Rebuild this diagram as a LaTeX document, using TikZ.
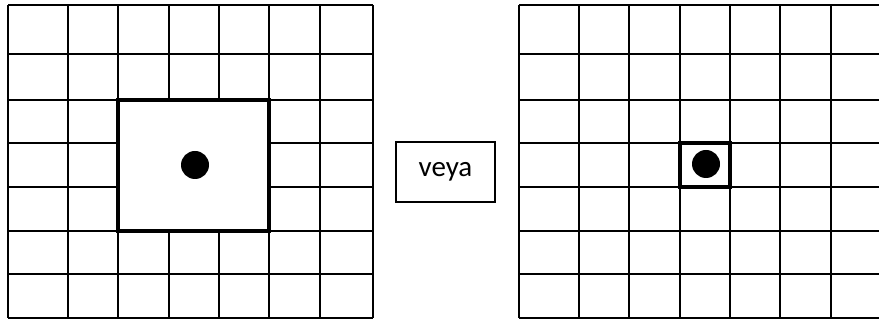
\documentclass[tikz,border=0pt]{standalone}
\usepackage{fontspec}
\setmainfont{Carlito}
\tikzset{
  thin grid/.style={line width=1.1pt, black},
  thick frame/.style={line width=3.2pt, black},
  dotmark/.style={fill=black},
  orbox/.style={draw, line width=1.1pt, minimum width=99pt, minimum height=60pt, inner sep=0pt, font=\fontsize{29}{32}\selectfont}
}
\begin{document}
\begin{tikzpicture}[x=1pt,y=-1pt]
\useasboundingbox (0,0) rectangle (879,320);
\begin{scope}
\clip (0,0) rectangle (879,320);
% left grid
\foreach \x in {8,68,118,169,219,269,320,373} \draw[thin grid] (\x,5) -- (\x,318);
\foreach \y in {5,54,100,143,187,231,274,318} \draw[thin grid] (8,\y) -- (373,\y);
\fill[white] (118,100) rectangle (269,231);
\draw[thick frame] (118,100) rectangle (269,231);
\fill[dotmark] (195,165) circle (14);
% right grid
\foreach \x in {519,579,629,680,730,780,831,881} \draw[thin grid] (\x,5) -- (\x,318);
\foreach \y in {5,54,100,143,187,231,274,318} \draw[thin grid] (519,\y) -- (885,\y);
\draw[thick frame] (680,143) rectangle (730,187);
\fill[dotmark] (706,164) circle (14);
\end{scope}
\node[orbox] (veya) at (445.5,172) {veya};
\end{tikzpicture}
\end{document}
